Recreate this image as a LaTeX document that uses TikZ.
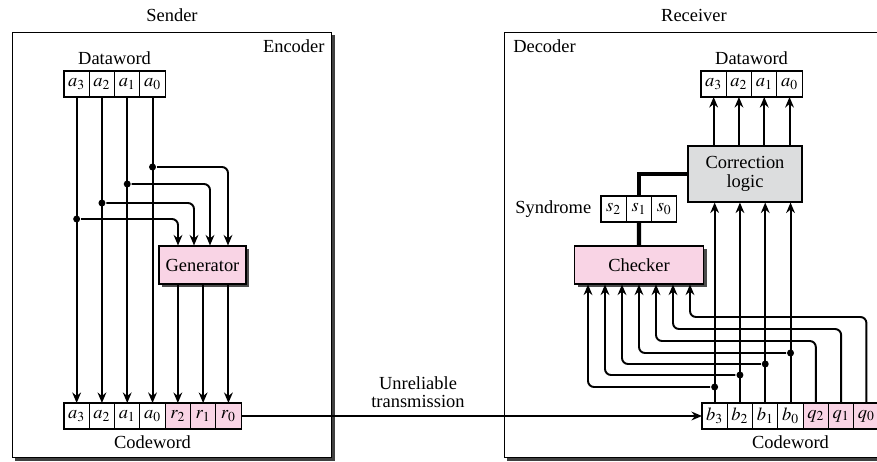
\documentclass[tikz,border=0pt]{standalone}
\usepackage{mathptmx}
\usepackage{fontspec}
\setmainfont{Liberation Serif}
\usetikzlibrary{arrows.meta, positioning, shadows}
\definecolor{unitpink}{RGB}{249,212,229}
\definecolor{logicgray}{RGB}{220,221,222}

\begin{document}
\begin{tikzpicture}[
        x=0.02cm, y=-0.02cm, line width=1.1pt,
        >={Stealth[length=6pt,width=5pt,inset=2pt]},
        font=\fontsize{10.5}{10.5}\selectfont,
        cell/.style={draw, line width=0.6pt, fill=white, minimum width=0.506cm,
            minimum height=0.52cm, inner sep=0pt, outer sep=0pt},
        pcell/.style={cell, fill=unitpink},
        frame/.style={draw, line width=0.6pt, fill=white,
            drop shadow={shadow xshift=1.6pt, shadow yshift=-1.6pt, fill=black!75, opacity=1}},
        unit/.style={draw, line width=0.6pt, fill=unitpink, minimum height=0.76cm,
            drop shadow={shadow xshift=1.8pt, shadow yshift=-1.8pt, fill=black!70, opacity=1}},
        dot/.style={circle, fill, inner sep=0pt, minimum size=0.14cm},
        wire/.style={->, rounded corners=0.12cm},
        synline/.style={line width=2.4pt},
        ]
        \clip (0,0) rectangle (877,461);

        % sender side
        \node (sender) at (172,15) {Sender};
        \node[frame, minimum width=6.4cm, minimum height=8.52cm] (enc) at (172,245) {};
        \node[below left=4pt and 4pt of enc.north east, inner sep=0pt] (enclabel) {Encoder};

        \node[cell] (da3) at (76.65,84) {$a_3$};
        \node[cell, right=0pt of da3] (da2) {$a_2$};
        \node[cell, right=0pt of da2] (da1) {$a_1$};
        \node[cell, right=0pt of da1] (da0) {$a_0$};
        \node[above=0pt of da2.north east] (dwleft) {Dataword};

        \node[unit, minimum width=1.74cm] (gen) at (202.5,265) {Generator};

        \node[cell] (ca3) at (76.65,416) {$a_3$};
        \node[cell, right=0pt of ca3] (ca2) {$a_2$};
        \node[cell, right=0pt of ca2] (ca1) {$a_1$};
        \node[cell, right=0pt of ca1] (ca0) {$a_0$};
        \node[pcell, right=0pt of ca0] (cr2) {$r_2$};
        \node[pcell, right=0pt of cr2] (cr1) {$r_1$};
        \node[pcell, right=0pt of cr1] (cr0) {$r_0$};
        \node[below=0pt of ca0] (cwleft) {Codeword};

        \foreach \i in {3,2,1,0} \draw[->] (da\i) -- (ca\i);
        \foreach \i/\y/\dx in {0/167/0.51cm, 1/184/0.15cm, 2/203/-0.17cm, 3/219/-0.49cm} {
            \node[dot] (ta\i) at (da\i |- 0,\y) {};
            \draw[wire] (ta\i) -| ([xshift=\dx]gen.north);
        }
        \foreach \i in {2,1,0} \draw[->] (gen.south -| cr\i) -- (cr\i);

        % receiver side
        \node (receiver) at (694,15) {Receiver};
        \node[frame, minimum width=7.82cm, minimum height=8.52cm] (dec) at (699.5,245) {};
        \node[below right=4pt and 5pt of dec.north west, inner sep=0pt] (declabel) {Decoder};

        \node[cell] (ra3) at (713.65,84) {$a_3$};
        \node[cell, right=0pt of ra3] (ra2) {$a_2$};
        \node[cell, right=0pt of ra2] (ra1) {$a_1$};
        \node[cell, right=0pt of ra1] (ra0) {$a_0$};
        \node[above=0pt of ra2.north east] (dwright) {Dataword};

        \node[draw, fill=logicgray, line width=0.6pt, minimum width=2.28cm,
            minimum height=1.12cm, align=center] (corr) at (745,174) {Correction\\logic};

        \node[cell] (s2) at (613.65,209) {$s_2$};
        \node[cell, right=0pt of s2] (s1) {$s_1$};
        \node[cell, right=0pt of s1] (s0) {$s_0$};
        \node[left=5pt of s2, inner sep=0pt] (synlabel) {Syndrome};

        \node[unit, minimum width=2.58cm] (chk) at (639,265) {Checker};

        \node[cell] (rb3) at (714.65,416) {$b_3$};
        \node[cell, right=0pt of rb3] (rb2) {$b_2$};
        \node[cell, right=0pt of rb2] (rb1) {$b_1$};
        \node[cell, right=0pt of rb1] (rb0) {$b_0$};
        \node[pcell, right=0pt of rb0] (rq2) {$q_2$};
        \node[pcell, right=0pt of rq2] (rq1) {$q_1$};
        \node[pcell, right=0pt of rq1] (rq0) {$q_0$};
        \node[below=0pt of rb0] (cwright) {Codeword};

        \draw[synline] (s1) -- (chk);
        \draw[synline] (s1) |- (corr);

        \foreach \i in {3,2,1,0} \draw[->] (rb\i) -- (rb\i |- corr.south);
        \foreach \i in {3,2,1,0} \draw[->] (corr.north -| ra\i) -- (ra\i);

        \foreach \k in {0,...,6} \coordinate (in\k) at ([xshift={(\k-3)*0.34cm}]chk.south);
        \foreach \i/\y/\k in {3/387/0, 2/375/1, 1/364/2, 0/353/3} {
            \node[dot] (tb\i) at (rb\i |- 0,\y) {};
            \draw[wire] (tb\i) -| (in\k);
        }
        \foreach \i/\y/\k in {2/341/4, 1/329/5, 0/317/6}
            \draw[wire] (rq\i) |- (in\k |- 0,\y) -- (in\k);

        % channel
        \draw[->] (cr0) -- (rb3);
        \node[align=center] (chan) at (418,392) {Unreliable\\transmission};
      \end{tikzpicture}
\end{document}
